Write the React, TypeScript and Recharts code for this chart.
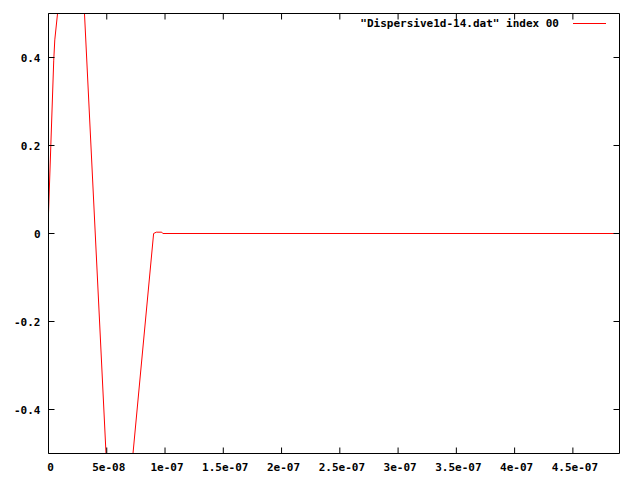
import { LineChart, Line, XAxis, YAxis } from "recharts";

// samples (time in s, amplitude)
const times = [0, 4.5e-9, 5.4e-9, 2.35e-8, 5.73e-8, 9.02e-8, 9.25e-8, 9.72e-8, 9.81e-8, 4.9e-7];
const values = [0.046, 0.394, 0.44, 0.9, -0.93, 0, 0.003, 0.003, 0, 0];

const xTicks = [0, 5e-8, 1e-7, 1.5e-7, 2e-7, 2.5e-7, 3e-7, 3.5e-7, 4e-7, 4.5e-7];
const xTickLabels = ["0", "5e-08", "1e-07", "1.5e-07", "2e-07", "2.5e-07", "3e-07", "3.5e-07", "4e-07", "4.5e-07"];
const yTicks = [-0.4, -0.2, 0, 0.2, 0.4];
const yTickLabels = ["-0.4", "-0.2", "0", "0.2", "0.4"];

const seriesName = '"Dispersive1d-14.dat" index 00';

const data = times.map((t, i) => ({ t, v: values[i] }));

const FONT = "'DejaVu Sans Mono', monospace";
const TICK_LEN = 6;

const BottomTick = (props: any) => {
  const { x, y, index } = props;
  return (
    <g>
      <line x1={x} y1={y} x2={x} y2={y - TICK_LEN} stroke="#000" />
      <text
        x={x + 2}
        y={y + 14}
        textAnchor="middle"
        dominantBaseline="central"
        fontFamily={FONT}
        fontWeight="bold"
        fontSize={11}
        fill="#000"
      >
        {xTickLabels[index]}
      </text>
    </g>
  );
};

const TopTick = (props: any) => {
  const { x, y } = props;
  return <line x1={x} y1={y} x2={x} y2={y + TICK_LEN} stroke="#000" />;
};

const LeftTick = (props: any) => {
  const { x, y, payload } = props;
  const idx = yTicks.indexOf(payload.value);
  return (
    <g>
      <line x1={x} y1={y} x2={x + TICK_LEN} y2={y} stroke="#000" />
      <text
        x={x - 8}
        y={y + 1}
        textAnchor="end"
        dominantBaseline="central"
        fontFamily={FONT}
        fontWeight="bold"
        fontSize={11}
        fill="#000"
      >
        {yTickLabels[idx]}
      </text>
    </g>
  );
};

const RightTick = (props: any) => {
  const { x, y } = props;
  return <line x1={x} y1={y} x2={x - TICK_LEN} y2={y} stroke="#000" />;
};

export default function App() {
  return (
    <div style={{ position: "absolute", left: 0, top: 0, width: 640, height: 480, background: "#fff" }}>
      <LineChart width={640} height={480} data={data} margin={{ top: 12.5, right: 19.5, bottom: 0, left: 0 }}>
        <XAxis
          xAxisId="bottom"
          dataKey="t"
          type="number"
          domain={[0, 4.9e-7]}
          ticks={xTicks}
          interval={0}
          height={26.5}
          tickLine={false}
          tickSize={0}
          tickMargin={0}
          axisLine={{ stroke: "#000" }}
          tick={BottomTick}
        />
        <XAxis
          xAxisId="top"
          orientation="top"
          dataKey="t"
          type="number"
          domain={[0, 4.9e-7]}
          ticks={xTicks}
          interval={0}
          height={1}
          tickLine={false}
          tickSize={0}
          tickMargin={0}
          axisLine={{ stroke: "#000" }}
          tick={TopTick}
        />
        <YAxis
          yAxisId="left"
          type="number"
          domain={[-0.5, 0.5]}
          allowDataOverflow
          ticks={yTicks}
          interval={0}
          width={48.5}
          tickLine={false}
          tickSize={0}
          tickMargin={0}
          axisLine={{ stroke: "#000" }}
          tick={LeftTick}
        />
        <YAxis
          yAxisId="right"
          orientation="right"
          type="number"
          domain={[-0.5, 0.5]}
          allowDataOverflow
          ticks={yTicks}
          interval={0}
          width={1}
          tickLine={false}
          tickSize={0}
          tickMargin={0}
          axisLine={{ stroke: "#000" }}
          tick={RightTick}
        />
        <Line
          xAxisId="bottom"
          yAxisId="left"
          type="linear"
          dataKey="v"
          stroke="#ff0000"
          strokeWidth={1}
          dot={false}
          activeDot={false}
          isAnimationActive={false}
          name={seriesName}
        />
      </LineChart>
      <div
        style={{
          position: "absolute",
          top: 16,
          left: 0,
          width: 606,
          display: "flex",
          justifyContent: "flex-end",
          alignItems: "center",
          fontFamily: FONT,
          fontWeight: "bold",
          fontSize: 11,
          lineHeight: "15px",
          color: "#000",
          whiteSpace: "pre",
        }}
      >
        <span>{seriesName}</span>
        <span style={{ display: "inline-block", width: 33, height: 1, background: "#ff0000", marginLeft: 14 }} />
      </div>
    </div>
  );
}
